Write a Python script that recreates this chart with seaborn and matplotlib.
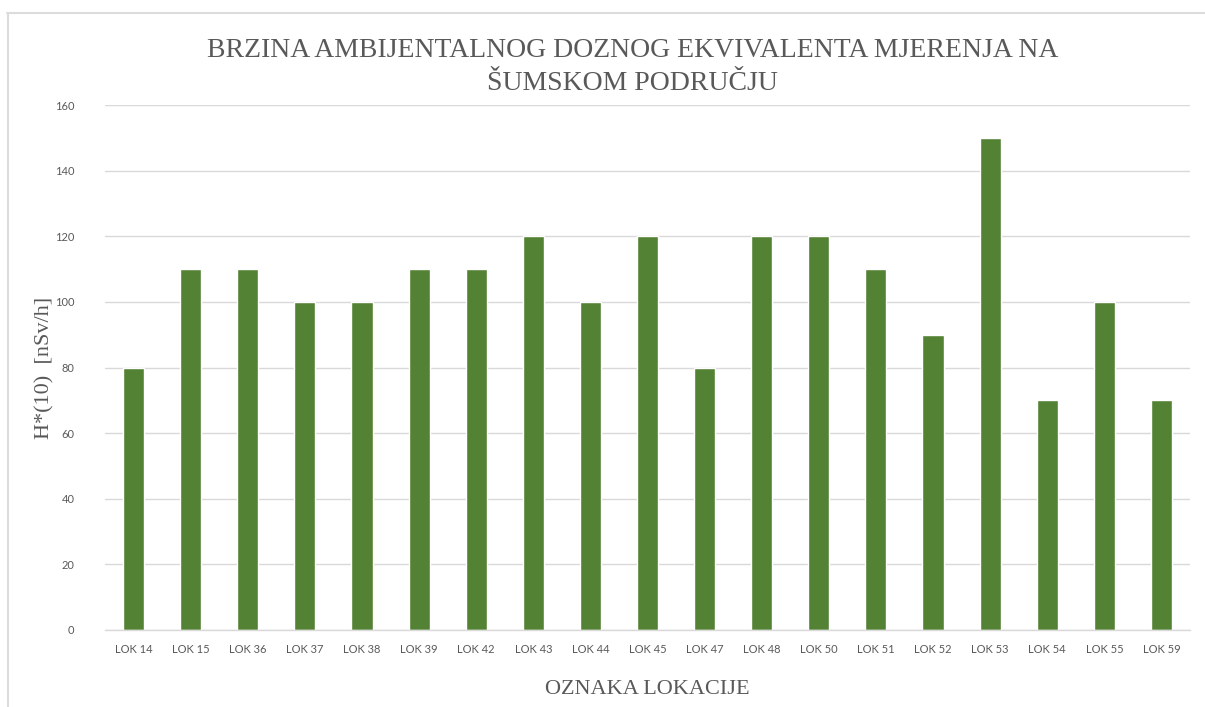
import matplotlib
matplotlib.use("Agg")
import matplotlib.pyplot as plt
from matplotlib.lines import Line2D
import seaborn as sns
import pandas as pd

locations = ["LOK 14", "LOK 15", "LOK 36", "LOK 37", "LOK 38", "LOK 39", "LOK 42",
             "LOK 43", "LOK 44", "LOK 45", "LOK 47", "LOK 48", "LOK 50", "LOK 51",
             "LOK 52", "LOK 53", "LOK 54", "LOK 55", "LOK 59"]
dose_rate = [80, 110, 110, 100, 100, 110, 110, 120, 100, 120, 80, 120, 120, 110,
             90, 150, 70, 100, 70]
y_ticks = [0, 20, 40, 60, 80, 100, 120, 140, 160]

df = pd.DataFrame({"lokacija": locations, "H10": dose_rate})

sns.set_theme(style="white")
plt.rcParams["font.family"] = ["Lato", "DejaVu Sans"]

W, H = 1205, 707
fig = plt.figure(figsize=(W / 100, H / 100), dpi=100)
fig.patch.set_facecolor("white")
# chart-area frame: top and left edges only
frame_kw = dict(transform=fig.transFigure, color="#dcdcdc", linewidth=1.5)
fig.add_artist(Line2D([7 / W, 1], [1 - 13 / H, 1 - 13 / H], **frame_kw))
fig.add_artist(Line2D([8 / W, 8 / W], [0, 1 - 13 / H], **frame_kw))

ax = fig.add_axes([105 / W, 1 - 630 / H, 1085 / W, 525 / H])
sns.barplot(data=df, x="lokacija", y="H10", color="#548235", width=0.37,
            saturation=1, ax=ax)

ax.set_xlim(-0.5, len(locations) - 0.5)
ax.set_ylim(0, 160)
ax.set_yticks(y_ticks)
ax.yaxis.grid(True, color="#d9d9d9", linewidth=1)
ax.set_axisbelow(True)
for side in ["top", "right", "left"]:
    ax.spines[side].set_visible(False)
ax.spines["bottom"].set_color("#d9d9d9")
ax.spines["bottom"].set_linewidth(1)
ax.tick_params(axis="both", length=0, labelsize=8, labelcolor="#595959")
ax.tick_params(axis="x", pad=10)
ax.tick_params(axis="y", pad=22)

serif = ["Liberation Serif", "DejaVu Serif"]
ax.set_xlabel("OZNAKA LOKACIJE", family=serif, fontsize=16, color="#595959",
              labelpad=18)
ax.set_ylabel("H*(10)  [nSv/h]", family=serif, fontsize=16, color="#595959",
              labelpad=0)
fig.text(0.525, 1 - 67 / H,
         "BRZINA AMBIJENTALNOG DOZNOG EKVIVALENTA MJERENJA NA\nŠUMSKOM PODRUČJU",
         family=serif, fontsize=20, color="#595959", ha="center", va="center",
         linespacing=1.4)

fig.savefig("out.png", dpi=100)
